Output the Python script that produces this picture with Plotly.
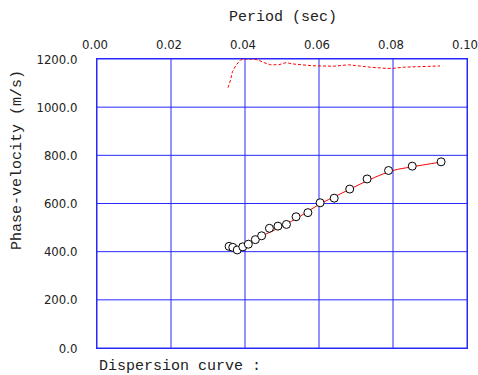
import plotly.graph_objects as go

# observed dispersion points
period_obs = [0.0357, 0.0367, 0.0379, 0.0394, 0.0409, 0.0428, 0.0445, 0.0466, 0.0489,
              0.0512, 0.0538, 0.0570, 0.0603, 0.0641, 0.0683, 0.0730, 0.0788, 0.0852, 0.0930]
vel_obs = [422, 418, 407, 420, 431, 450, 466, 497, 506,
           513, 545, 562, 603, 622, 660, 702, 737, 755, 773]

# fitted curve
period_fit = [0.0357, 0.0379, 0.0400, 0.0450, 0.0500, 0.0550, 0.0600, 0.0650,
              0.0700, 0.0750, 0.0800, 0.0850, 0.0930]
vel_fit = [420, 410, 425, 468, 505, 548, 596, 634, 672, 708, 737, 752, 772]

# theoretical (red dashed)
period_th = [0.0354, 0.0361, 0.0366, 0.0376, 0.0388, 0.0401, 0.0420, 0.0436, 0.0451,
             0.0469, 0.0491, 0.0511, 0.0532, 0.0554, 0.0581, 0.0608, 0.0639, 0.0680,
             0.0702, 0.0738, 0.0783, 0.0801, 0.0828, 0.0873, 0.0927]
vel_th = [1081, 1113, 1147, 1175, 1196, 1200, 1200, 1196, 1185,
          1176, 1176, 1185, 1179, 1175, 1172, 1171, 1170, 1176,
          1172, 1166, 1161, 1161, 1166, 1168, 1171]

x_ticks = [0.0, 0.02, 0.04, 0.06, 0.08, 0.10]
y_ticks = [0, 200, 400, 600, 800, 1000, 1200]

mono = "Liberation Mono, Courier New, monospace"
narrow = "Liberation Sans Narrow, DejaVu Sans Condensed, Arial Narrow, sans-serif"
grid = "#2828ff"

fig = go.Figure()
fig.add_trace(go.Scatter(x=period_th, y=vel_th, mode="lines",
                         line=dict(color="red", width=1, dash="3px,2px")))
fig.add_trace(go.Scatter(x=period_fit, y=vel_fit, mode="lines",
                         line=dict(color="red", width=1, shape="spline")))
fig.add_trace(go.Scatter(x=period_obs, y=vel_obs, mode="markers",
                         marker=dict(symbol="circle", size=8, color="white",
                                     line=dict(color="black", width=1))))

# blue grid
for t in x_ticks:
    fig.add_vline(x=t, line=dict(color=grid, width=1), layer="below")
for t in y_ticks:
    fig.add_hline(y=t, line=dict(color=grid, width=1), layer="below")

fig.update_layout(
    template="none",
    width=478, height=375,
    margin=dict(l=97, r=11, t=59, b=27),
    paper_bgcolor="white", plot_bgcolor="white",
    showlegend=False,
    xaxis=dict(side="top", range=[0, 0.1], tickmode="array", tickvals=x_ticks,
               tickformat=".2f", ticklabeloverflow="allow", ticklabelshift=-2,
               showgrid=False,
               showline=True, linecolor=grid, linewidth=1, mirror=True,
               ticks="", ticklabelstandoff=4, zeroline=False,
               tickfont=dict(family=narrow, size=13, color="#222")),
    yaxis=dict(range=[0, 1200], tickmode="array", tickvals=y_ticks, tickformat=".1f",
               showgrid=False,
               showline=True, linecolor=grid, linewidth=1, mirror=True,
               ticks="", ticklabelstandoff=16, zeroline=False,
               tickfont=dict(family=narrow, size=13, color="#222")),
    annotations=[
        dict(text="Period (sec)", x=283, y=17, xanchor="center", yanchor="middle",
             showarrow=False, font=dict(family=mono, size=15, color="#222")),
        dict(text="Phase-velocity (m/s)", textangle=-90, x=17, y=160,
             xanchor="center", yanchor="middle", showarrow=False,
             font=dict(family=mono, size=15, color="#222")),
        dict(text="Dispersion curve :", x=97, y=366, xanchor="left", yanchor="middle",
             showarrow=False, font=dict(family=mono, size=15, color="#222")),
    ],
)

# convert pixel positions of annotations to paper coords
pw = 478 - 97 - 11
ph = 375 - 59 - 27
for a in fig.layout.annotations:
    a.xref = "paper"
    a.yref = "paper"
    a.x = (a.x - 97) / pw
    a.y = (375 - 27 - a.y) / ph

fig.write_html("out.html", config={"displayModeBar": False},
               post_script="document.body.style.margin='0';")
